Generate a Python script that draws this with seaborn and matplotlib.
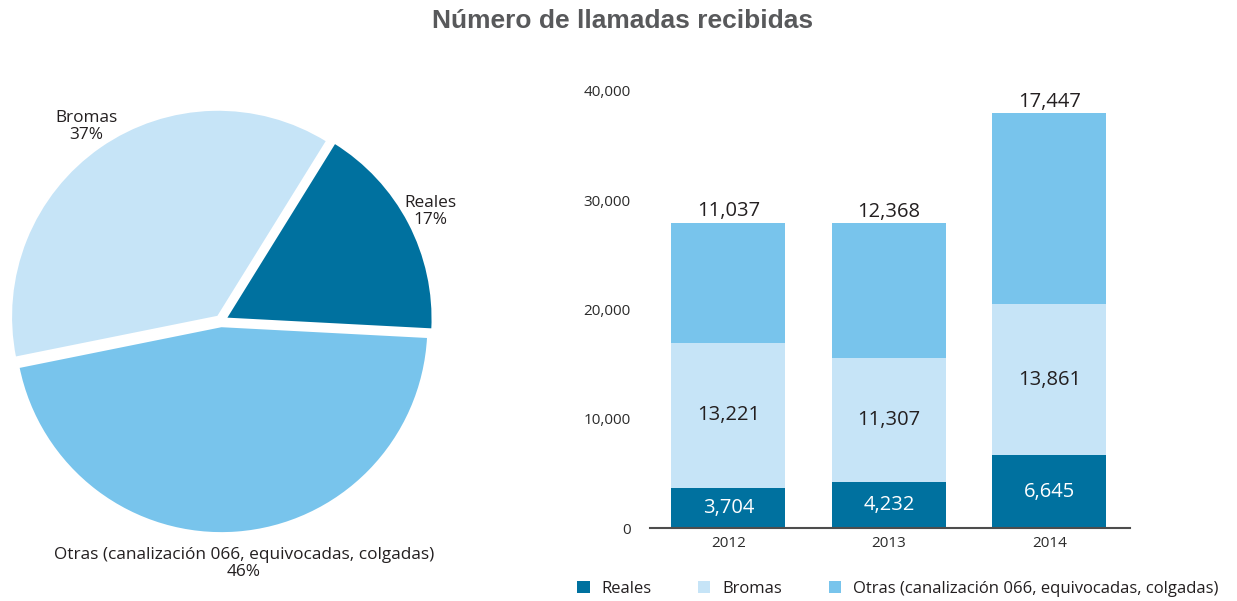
import matplotlib
matplotlib.use('Agg')
import matplotlib.pyplot as plt
from matplotlib.patches import Patch
from matplotlib.ticker import FuncFormatter
import numpy as np
import seaborn as sns

# Data
years = ['2012', '2013', '2014']
reales = [3704, 4232, 6645]
bromas = [13221, 11307, 13861]
otras = [11037, 12368, 17447]

pie_labels = ['Reales', 'Bromas', 'Otras (canalización 066, equivocadas, colgadas)']
pie_pct = [17, 37, 46]

legend_labels = ['Reales', 'Bromas', 'Otras (canalización 066, equivocadas, colgadas)']
colors = ['#00719f', '#c6e4f7', '#78c4ec']

sns.set_theme(style='white')
plt.rcParams['font.family'] = ['Open Sans', 'DejaVu Sans']
txt_color = '#231f20'

fig = plt.figure(figsize=(12.37, 6.01), dpi=100)

# Title
fig.text(0.503, 0.965, 'Número de llamadas recibidas', ha='center', va='center',
         fontsize=19, fontweight='bold', color='#58595b', family=['Liberation Sans', 'DejaVu Sans'])

# Pie chart
ax_pie = fig.add_axes([(221 - 207) / 1237, (601 - 321 - 207) / 601, 414 / 1237, 414 / 601])
ax_pie.pie(pie_pct, colors=colors, startangle=-3, explode=[0.025] * 3,
           wedgeprops=dict(linewidth=1.5, edgecolor='white'))
ax_pie.set_xlim(-1, 1)
ax_pie.set_ylim(-1, 1)

# label positions (axes data coords)
label_pos = [(1.01, 0.53), (-0.65, 0.94), (0.11, -1.17)]
for (lx, ly), name, pct in zip(label_pos, pie_labels, pie_pct):
    ax_pie.text(lx, ly, f'{name}\n{pct}%', ha='center', va='center', fontsize=12.4,
                color=txt_color, linespacing=1.1)

# Stacked bar chart (cumulative layers)
ax = fig.add_axes([650 / 1237, 73 / 601, 480 / 1237, 437 / 601])
cum1 = np.array(reales)
cum2 = cum1 + np.array(bromas)
cum3 = cum2 + np.array(otras)

for vals, col in zip([cum3, cum2, cum1], [colors[2], colors[1], colors[0]]):
    sns.barplot(x=years, y=vals, color=col, width=0.71, linewidth=0, saturation=1, ax=ax)

# value labels
for i in range(len(years)):
    ax.text(i, reales[i] / 2, f'{reales[i]:,}', ha='center', va='center', fontsize=14.5, color='white')
    ax.text(i, cum1[i] + bromas[i] / 2, f'{bromas[i]:,}', ha='center', va='center', fontsize=14.5,
            color=txt_color)
    ax.text(i, cum3[i] + 120, f'{otras[i]:,}', ha='center', va='bottom', fontsize=14.5, color=txt_color)

ax.set_xlim(-0.489, 2.503)
ax.set_ylim(0, 40000)
ax.set_yticks([0, 10000, 20000, 30000, 40000])
ax.yaxis.set_major_formatter(FuncFormatter(lambda v, p: f'{int(v):,}'))
ax.set_xlabel('')
ax.set_ylabel('')
sns.despine(ax=ax, left=True, top=True, right=True)
ax.spines['bottom'].set_color('#4d4d4d')
ax.spines['bottom'].set_linewidth(1.5)
ax.tick_params(axis='y', length=0, pad=14, labelsize=11, labelcolor='#2b2b2b')
ax.tick_params(axis='x', length=0, pad=6, labelsize=11, labelcolor='#2b2b2b')

# Legend
handles = [Patch(facecolor=c, edgecolor='none') for c in colors]
fig.legend(handles, legend_labels, loc='center left', bbox_to_anchor=(577 / 1237, 12 / 601),
           ncol=3, frameon=False, fontsize=12, borderpad=0, borderaxespad=0,
           handlelength=0.75, handleheight=0.75, handletextpad=0.7, columnspacing=2.8,
           labelcolor=txt_color)

fig.savefig('out.png', dpi=100)
